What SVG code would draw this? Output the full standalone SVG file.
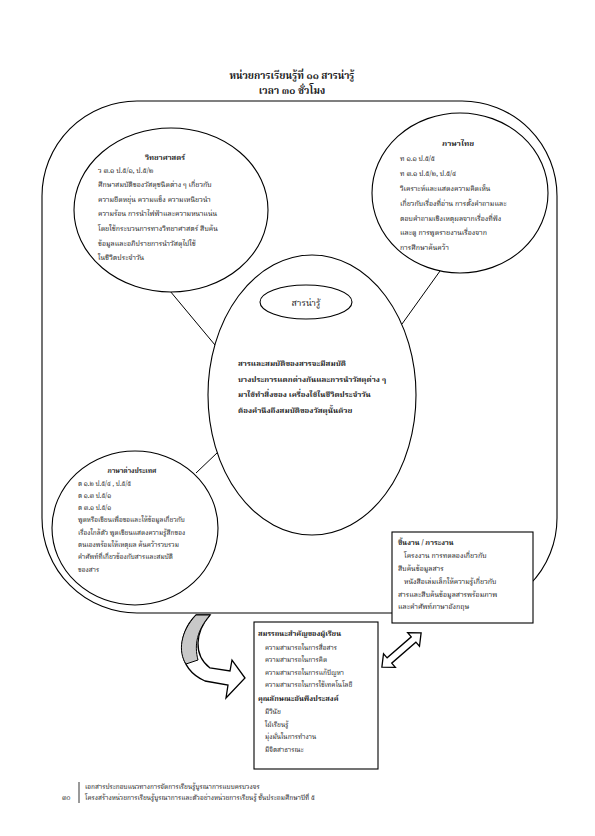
<svg xmlns="http://www.w3.org/2000/svg" width="595" height="836" viewBox="0 0 595 836">
<style>
text{font-family:"Noto Serif Thai","Noto Sans Thai","Liberation Serif",serif;fill:#1a1a1a}
.t{font-size:7px}
.s{font-size:6.5px}
.b{font-weight:bold}
.shape{fill:none;stroke:#000;stroke-width:1.1}
.wshape{fill:#fff;stroke:#000;stroke-width:1.1}
.ln{stroke:#000;stroke-width:1;fill:none}
</style>
<rect width="595" height="836" fill="#fff"/>

<g id="title">
<text x="292" y="79" text-anchor="middle" class="b" font-size="10">หน่วยการเรียนรู้ที่ ๑๑  สารน่ารู้</text>
<text x="292" y="94" text-anchor="middle" class="b" font-size="10">เวลา  ๓๐ ชั่วโมง</text>
</g>

<g id="frame">
<rect x="42" y="101" width="515" height="512" rx="95" ry="95" class="shape"/>
</g>

<g id="connectors">
<line x1="170" y1="291" x2="215" y2="345" class="ln"/>
<line x1="440" y1="271" x2="402" y2="324" class="ln"/>
<line x1="196" y1="473" x2="218" y2="452" class="ln"/>
</g>

<g id="science">
<ellipse cx="171" cy="210" rx="97" ry="82" class="wshape"/>
<text x="165" y="160" text-anchor="middle" class="b" font-size="7.5">วิทยาศาสตร์</text>
<text x="98" y="173" class="t">ว ๓.๑  ป.๕/๑, ป.๕/๒</text>
<text x="98" y="187" class="t">ศึกษาสมบัติของวัสดุชนิดต่าง ๆ เกี่ยวกับ</text>
<text x="98" y="201.5" class="t">ความยืดหยุ่น ความแข็ง ความเหนียวนำ</text>
<text x="98" y="216" class="t">ความร้อน การนำไฟฟ้าและความหนาแน่น</text>
<text x="98" y="231" class="t">โดยใช้กระบวนการทางวิทยาศาสตร์ สืบค้น</text>
<text x="98" y="245.5" class="t">ข้อมูลและอภิปรายการนำวัสดุไปใช้</text>
<text x="98" y="260" class="t">ในชีวิตประจำวัน</text>
</g>

<g id="thai">
<ellipse cx="460" cy="193" rx="88" ry="80" class="wshape"/>
<text x="458" y="146" text-anchor="middle" class="b" font-size="7.8">ภาษาไทย</text>
<text x="400" y="160.5" class="t">ท ๑.๑  ป.๕/๕</text>
<text x="400" y="175.5" class="t">ท ๓.๑  ป.๕/๒, ป.๕/๔</text>
<text x="400" y="190.5" class="t">วิเคราะห์และแสดงความคิดเห็น</text>
<text x="400" y="205.5" class="t">เกี่ยวกับเรื่องที่อ่าน การตั้งคำถามและ</text>
<text x="400" y="220.5" class="t">ตอบคำถามเชิงเหตุผลจากเรื่องที่ฟัง</text>
<text x="400" y="234.5" class="t">และดู การพูดรายงานเรื่องจาก</text>
<text x="400" y="249.5" class="t">การศึกษาค้นคว้า</text>
</g>

<g id="center">
<ellipse cx="312" cy="395" rx="104" ry="140" class="wshape"/>
<text x="238" y="366" class="b" font-size="7.8">สารและสมบัติของสารจะมีสมบัติ</text>
<text x="238" y="381.5" class="b" font-size="7.8">บางประการแตกต่างกันและการนำวัสดุต่าง ๆ</text>
<text x="238" y="397" class="b" font-size="7.8">มาใช้ทำสิ่งของ เครื่องใช้ในชีวิตประจำวัน</text>
<text x="238" y="412.5" class="b" font-size="7.8">ต้องคำนึงถึงสมบัติของวัสดุนั้นด้วย</text>
</g>

<g id="topic">
<ellipse cx="306" cy="302" rx="46" ry="17" class="wshape"/>
<text x="306" y="306" text-anchor="middle" font-size="9">สารน่ารู้</text>
</g>

<g id="foreign">
<ellipse cx="135" cy="528" rx="83" ry="77" class="wshape"/>
<text x="132" y="473" text-anchor="middle" class="b" font-size="6.5">ภาษาต่างประเทศ</text>
<text x="78" y="485.5" class="s">ต ๑.๒   ป.๕/๔ , ป.๕/๕</text>
<text x="78" y="497.5" class="s">ต ๑.๓   ป.๕/๑</text>
<text x="78" y="509.5" class="s">ต ๓.๑   ป.๕/๑</text>
<text x="78" y="522" class="s">พูดหรือเขียนเพื่อขอและให้ข้อมูลเกี่ยวกับ</text>
<text x="78" y="535" class="s">เรื่องใกล้ตัว พูดเขียนแสดงความรู้สึกของ</text>
<text x="78" y="547" class="s">ตนเองพร้อมให้เหตุผล   ค้นคว้ารวบรวม</text>
<text x="78" y="559" class="s">คำศัพท์ที่เกี่ยวข้องกับสารและสมบัติ</text>
<text x="78" y="572" class="s">ของสาร</text>
</g>

<g id="tasks">
<rect x="392" y="532" width="141" height="91" class="wshape"/>
<text x="398" y="545" class="b" font-size="7.2">ชิ้นงาน / ภาระงาน</text>
<text x="404" y="558" class="t">โครงงาน การทดลองเกี่ยวกับ</text>
<text x="398" y="571" class="t">สืบค้นข้อมูลสาร</text>
<text x="404" y="584" class="t">หนังสือเล่มเล็กให้ความรู้เกี่ยวกับ</text>
<text x="398" y="596.5" class="t">สารและสืบค้นข้อมูลสารพร้อมภาพ</text>
<text x="398" y="609" class="t">และคำศัพท์ภาษาอังกฤษ</text>
</g>

<g id="competency">
<rect x="254" y="622" width="124" height="147" class="wshape"/>
<text x="258" y="635.5" class="b" font-size="7.3">สมรรถนะสำคัญของผู้เรียน</text>
<text x="265" y="649.5" class="s">ความสามารถในการสื่อสาร</text>
<text x="265" y="662" class="s">ความสามารถในการคิด</text>
<text x="265" y="674.5" class="s">ความสามารถในการแก้ปัญหา</text>
<text x="265" y="687" class="s">ความสามารถในการใช้เทคโนโลยี</text>
<text x="258" y="700.5" class="b" font-size="7.3">คุณลักษณะอันพึงประสงค์</text>
<text x="265" y="714" class="s">มีวินัย</text>
<text x="265" y="726.5" class="s">ใฝ่เรียนรู้</text>
<text x="265" y="739" class="s">มุ่งมั่นในการทำงาน</text>
<text x="265" y="751.5" class="s">มีจิตสาธารณะ</text>
</g>

<g id="curved-arrow">
<path d="M196,615 C176,635 176,668 205,681 L228,685 L226,698 L245,678 L232,660 L230,671 L210,668 C193,655 195,632 210,615 Z" fill="#fff" stroke="#000" stroke-width="1.3" stroke-linejoin="miter"/>
<path d="M196,615 C180,632 178,652 186,664 L198,660 C194,645 197,630 210,615 Z" fill="#c8c8c8" stroke="#000" stroke-width="1"/>
</g>

<g id="double-arrow">
<polygon transform="translate(401.5,650) rotate(-41)" points="-26,0 -16,-9 -16,-3.5 16,-3.5 16,-9 26,0 16,9 16,3.5 -16,3.5 -16,9" fill="#fff" stroke="#000" stroke-width="1.3"/>
</g>

<g id="footer">
<line x1="79" y1="782" x2="79" y2="803" stroke="#000" stroke-width="0.8"/>
<text x="62" y="800" class="s">๓๐</text>
<text x="85" y="789" class="s">เอกสารประกอบแนวทางการจัดการเรียนรู้บูรณาการแบบครบวงจร</text>
<text x="85" y="800" class="s">โครงสร้างหน่วยการเรียนรู้บูรณาการและตัวอย่างหน่วยการเรียนรู้ ชั้นประถมศึกษาปีที่ ๕</text>
</g>
</svg>
